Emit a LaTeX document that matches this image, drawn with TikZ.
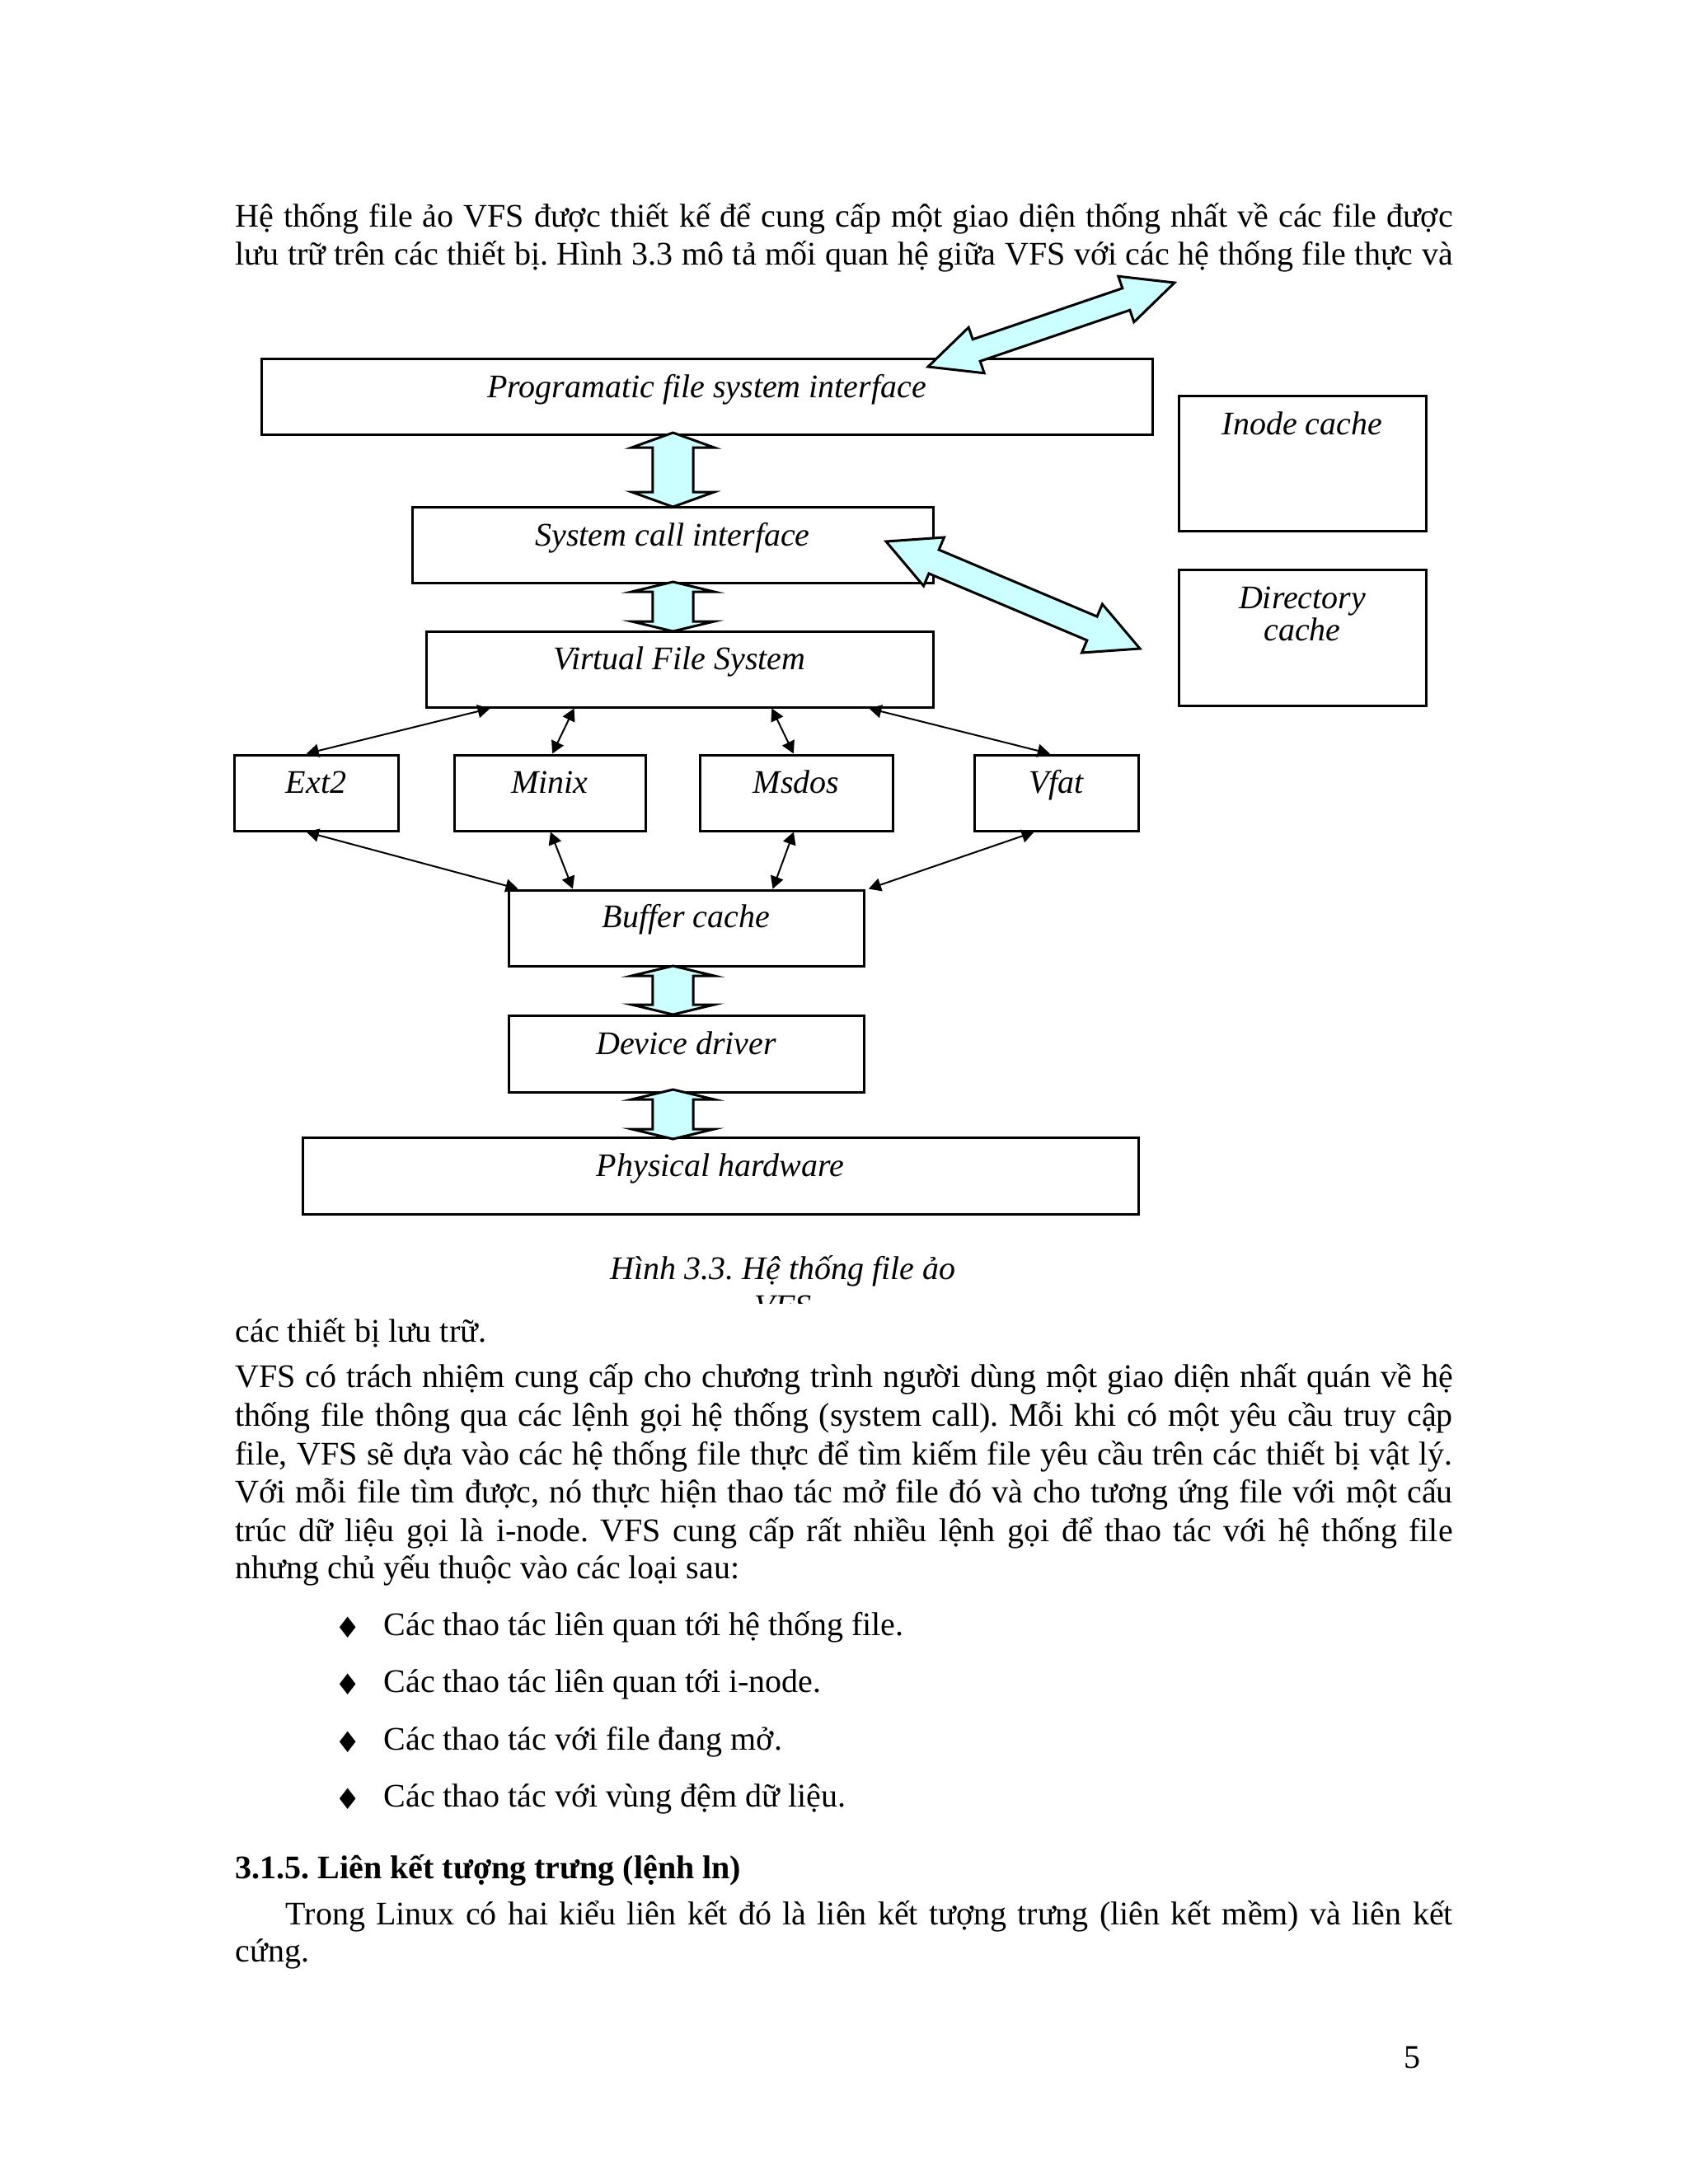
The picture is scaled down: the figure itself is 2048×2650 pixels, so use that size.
\documentclass[tikz,border=0pt]{standalone}
\usepackage{fontspec}
\setmainfont{Liberation Serif}[Ligatures=NoCommon]
\newfontfamily\symfont{DejaVu Sans}
\frenchspacing
\usetikzlibrary{calc,fit,arrows.meta}
\definecolor{fatfill}{RGB}{204,255,255}
\tikzset{
 box/.style={draw, line width=0.9pt, inner sep=0pt},
 lbl/.style={anchor=base, inner sep=0pt, font=\itshape\fontsize{12}{14}\selectfont},
 txt/.style={anchor=base west, inner sep=0pt, font=\fontsize{12}{14}\selectfont},
 bul/.style={inner sep=0pt, font=\symfont\fontsize{10.5}{12}\selectfont},
 fatarr/.style={draw, fill=fatfill, line width=0.9pt, line join=miter},
 thinarr/.style={line width=0.6pt, {Triangle[length=4.5pt,width=4.8pt]}-{Triangle[length=4.5pt,width=4.8pt]}},
}
% #1 name, #2 A, #3 B, #4 half shaft, #5 half head, #6 head length
\newcommand\fatarrow[6]{%
 \coordinate (#1-ha) at ($(#2)!#6!(#3)$);
 \coordinate (#1-hb) at ($(#3)!#6!(#2)$);
 \draw[fatarr] (#2) -- ($(#1-ha)!#5!90:(#3)$) -- ($(#1-ha)!#4!90:(#3)$)
   -- ($(#1-hb)!#4!-90:(#2)$) -- ($(#1-hb)!#5!-90:(#2)$) -- (#3)
   -- ($(#1-hb)!#5!90:(#2)$) -- ($(#1-hb)!#4!90:(#2)$)
   -- ($(#1-ha)!#4!-90:(#3)$) -- ($(#1-ha)!#5!-90:(#3)$) -- cycle;
}
\begin{document}
\begin{tikzpicture}[x=0.3pt, y=-0.3pt]
\fill[white] (0,0) rectangle (2048,2650);
\useasboundingbox (0,0) rectangle (2048,2650);

% ---- body text above
\node[txt] (p1) at (285,275) {\makebox[443.1pt][s]{Hệ thống file ảo VFS được thiết kế để cung cấp một giao diện thống nhất về các file được}};
\node[txt] (p2) at (285,321) {\makebox[443.1pt][s]{lưu trữ trên các thiết bị. Hình 3.3 mô tả mối quan hệ giữa VFS với các hệ thống file thực và}};

% ---- boxes
\node[box, fit={(317,435) (1398,527)}] (prog) {};
\node[box, fit={(1430,480) (1730,644)}] (inode) {};
\node[box, fit={(1430,691) (1730,856)}] (dir) {};
\node[box, fit={(500,615) (1132,707)}] (sc) {};
\node[box, fit={(517,766) (1132,858)}] (vfs) {};
\node[box, fit={(284,916) (483,1008)}] (ext2) {};
\node[box, fit={(551,916) (783,1008)}] (minix) {};
\node[box, fit={(849,916) (1083,1008)}] (msdos) {};
\node[box, fit={(1182,916) (1381,1008)}] (vfat) {};
\node[box, fit={(617,1080) (1048,1172)}] (buf) {};
\node[box, fit={(617,1232) (1048,1325)}] (dev) {};
\node[box, fit={(367,1380) (1381,1473)}] (phys) {};

% ---- labels
\node[lbl] (progL) at ($(prog.north)+(0,49)$) {Programatic file system interface};
\node[lbl] (inodeL) at ($(inode.north)+(0,49)$) {Inode cache};
\node[lbl] (dirL1) at ($(dir.north)+(0,49)$) {Directory};
\node[lbl] (dirL2) at ($(dir.north)+(0,88)$) {cache};
\node[lbl] (scL) at ($(sc.north)+(0,49)$) {System call interface};
\node[lbl] (vfsL) at ($(vfs.north)+(0,48)$) {Virtual File System};
\node[lbl] (ext2L) at ($(ext2.north)+(0,48)$) {Ext2};
\node[lbl] (minixL) at ($(minix.north)+(0,48)$) {Minix};
\node[lbl] (msdosL) at ($(msdos.north)+(0,48)$) {Msdos};
\node[lbl] (vfatL) at ($(vfat.north)+(0,48)$) {Vfat};
\node[lbl] (bufL) at ($(buf.north)+(0,47)$) {Buffer cache};
\node[lbl] (devL) at ($(dev.north)+(0,49)$) {Device driver};
\node[lbl] (physL) at ($(phys.north)+(0,49)$) {Physical hardware};

% ---- fat arrows
\coordinate (a1t) at (816.5,525);  \coordinate (a1b) at (816.5,615);
\coordinate (a2t) at (816.5,706);  \coordinate (a2b) at (816.5,766);
\coordinate (a3t) at (816.5,1172); \coordinate (a3b) at (816.5,1231);
\coordinate (a4t) at (816.5,1322); \coordinate (a4b) at (816.5,1382);
\coordinate (d1a) at (1126,445);   \coordinate (d1b) at (1425,343);
\coordinate (d2a) at (1075,657);   \coordinate (d2b) at (1383,787);
\fatarrow{fa1}{a1t}{a1b}{7.4pt}{15pt}{5.4pt}
\fatarrow{fa2}{a2t}{a2b}{7.4pt}{15pt}{3.6pt}
\fatarrow{fa3}{a3t}{a3b}{7.4pt}{15pt}{3.6pt}
\fatarrow{fa4}{a4t}{a4b}{7.4pt}{15pt}{3.6pt}
\fatarrow{fd1}{d1a}{d1b}{4.2pt}{8.8pt}{18.6pt}
\fatarrow{fd2}{d2a}{d2b}{4.7pt}{9.6pt}{18.9pt}

% ---- thin arrows
\draw[thinarr] ($(ext2.north west)!0.442!(ext2.north east)$) -- ($(vfs.south west)!0.128!(vfs.south east)$);
\draw[thinarr] ($(minix.north west)!0.513!(minix.north east)$) -- ($(vfs.south west)!0.293!(vfs.south east)$);
\draw[thinarr] ($(msdos.north west)!0.487!(msdos.north east)$) -- ($(vfs.south west)!0.681!(vfs.south east)$);
\draw[thinarr] ($(vfat.north west)!0.462!(vfat.north east)$) -- ($(vfs.south west)!0.872!(vfs.south east)$);
\draw[thinarr] ($(ext2.south west)!0.442!(ext2.south east)$) -- ($(buf.north west)!0.030!(buf.north east)$);
\draw[thinarr] ($(minix.south west)!0.504!(minix.south east)$) -- ($(buf.north west)!0.183!(buf.north east)$);
\draw[thinarr] ($(msdos.south west)!0.487!(msdos.south east)$) -- ($(buf.north west)!0.742!(buf.north east)$);
\draw[thinarr] ($(vfat.south west)!0.367!(vfat.south east)$) -- ($(buf.north west)!1.01!(buf.north east)$);

% ---- caption
\node[lbl] (capA) at (950,1552) {Hình 3.3. Hệ thống file ảo};
\begin{scope}
\clip (600,1500) rectangle (1300,1581);
\node[lbl] (capB) at (950,1598) {VFS};
\end{scope}

% ---- body text below
\node[txt] (p3) at (285,1628) {các thiết bị lưu trữ.};
\node[txt] (p4) at (285,1683) {\makebox[443.1pt][s]{VFS có trách nhiệm cung cấp cho chương trình người dùng một giao diện nhất quán về hệ}};
\node[txt] (p5) at (285,1730) {\makebox[443.1pt][s]{thống file thông qua các lệnh gọi hệ thống (system call). Mỗi khi có một yêu cầu truy cập}};
\node[txt] (p6) at (285,1777) {\makebox[443.1pt][s]{file, VFS sẽ dựa vào các hệ thống file thực để tìm kiếm file yêu cầu trên các thiết bị vật lý.}};
\node[txt] (p7) at (285,1823) {\makebox[443.1pt][s]{Với mỗi file tìm được, nó thực hiện thao tác mở file đó và cho tương ứng file với một cấu}};
\node[txt] (p8) at (285,1870) {\makebox[443.1pt][s]{trúc dữ liệu gọi là i-node. VFS cung cấp rất nhiều lệnh gọi để thao tác với hệ thống file}};
\node[txt] (p9) at (285,1915) {nhưng chủ yếu thuộc vào các loại sau:};

\node[bul] (b1d) at (422,1975) {♦};
\node[txt] (b1) at (465,1984) {Các thao tác liên quan tới hệ thống file.};
\node[bul] (b2d) at (422,2044) {♦};
\node[txt] (b2) at (465,2053) {Các thao tác liên quan tới i-node.};
\node[bul] (b3d) at (422,2114) {♦};
\node[txt] (b3) at (465,2123) {Các thao tác với file đang mở.};
\node[bul] (b4d) at (422,2183) {♦};
\node[txt] (b4) at (465,2192) {Các thao tác với vùng đệm dữ liệu.};

\node[txt, font=\bfseries\fontsize{12}{14}\selectfont] (h1) at (285,2279) {3.1.5. Liên kết tượng trưng (lệnh ln)};
\node[txt] (p10) at (346,2335) {\makebox[424.8pt][s]{Trong Linux có hai kiểu liên kết đó là liên kết tượng trưng (liên kết mềm) và liên kết}};
\node[txt] (p11) at (285,2380) {cứng.};

\node[txt, anchor=base] (pg) at (1713,2509) {5};
\end{tikzpicture}
\end{document}
